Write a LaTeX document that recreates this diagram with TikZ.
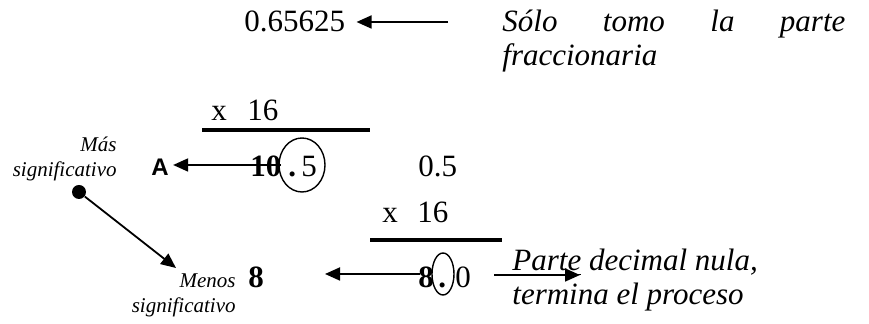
\documentclass[tikz,border=0pt]{standalone}
\usepackage{fontspec}
\setmainfont{Liberation Serif}
\newfontfamily\arialfont{Liberation Sans}
\usetikzlibrary{arrows.meta}

\newcommand{\numsize}{\fontsize{15.5}{17}\selectfont}
\newcommand{\notesize}{\fontsize{10.5}{12.5}\selectfont}

\tikzset{
  num/.style={font=\numsize, inner sep=0pt, anchor=base west},
  bnum/.style={font=\numsize\bfseries, inner sep=0pt, anchor=base west},
  txt/.style={font=\numsize\itshape, inner sep=0pt, anchor=base west, align=left},
  side/.style={font=\notesize\itshape, inner sep=0pt, anchor=base east, align=right},
  arr/.style={-{Triangle[length=7.5pt,width=6.5pt]}, line width=0.9pt},
  bar/.style={line width=2pt},
  ring/.style={line width=0.7pt}
}

\begin{document}
\begin{tikzpicture}[x=0.5pt, y=-0.5pt]
  \useasboundingbox (0,0) rectangle (869,324);

  %% fractional part taken from the start value
  \node[num] (frac) at (244,32) {0.65625};
  \node[txt, text width=171.5pt] (solo) at (502,32)
    {Sólo\hfill tomo\hfill la\hfill parte\\fraccionaria};
  \coordinate (t0) at (448,22);
  \draw[arr] (t0) -- ([xshift=5.5pt]frac.east |- t0);

  %% first product: 0.65625 x 16
  \node[num] (xa) at (211,121) {x};
  \node[num] (sixa) at (247,121) {16};
  \draw[bar] (202,130) -- (370,130);

  \node[bnum] (ten) at (250,177) {10};
  \node[bnum] (pta) at (288,177) {.};
  \node[num] (five) at (301,177) {5};
  \draw[ring] (302,165) ellipse [x radius=23, y radius=27];
  \node[num] (half) at (418,177) {0.5};

  \node[font=\arialfont\fontsize{12}{14}\selectfont\bfseries, inner sep=0pt,
    anchor=base west] (hexA) at (151,176) {A};
  \coordinate (t1) at (281,165);
  \draw[arr] (t1) -- ([xshift=2pt]hexA.east |- t1);

  %% second product: 0.5 x 16
  \node[num] (xb) at (382,223) {x};
  \node[num] (sixb) at (417,223) {16};
  \draw[bar] (370,240) -- (502,240);

  \node[bnum] (eight) at (418,288) {8};
  \node[bnum] (ptb) at (438,288) {.};
  \node[num] (zero) at (455,288) {0};
  \draw[ring] (443,274) ellipse [x radius=11, y radius=21];

  \node[bnum] (hexB) at (248,288) {8};
  \coordinate (c2) at (325,274);
  \draw[arr] ([xshift=1pt]eight.west |- c2) -- (c2);

  \node[txt] (nula) at (512,305)
    {\underline{Parte} decimal nula,\\termina el proceso};
  \coordinate (e3) at (580,275);
  \draw[arr] ([xshift=11.5pt]zero.east |- e3) -- (e3);

  %% digit order
  \node[side] (mas) at (117,177) {Más\\significativo};
  \node[side] (menos) at (236,313) {Menos\\significativo};
  \node[circle, fill, inner sep=0pt, minimum size=7pt] (dot) at (79,192) {};
  \coordinate (m1) at (176,268);
  \draw[arr] (dot) -- (m1);
\end{tikzpicture}
\end{document}
